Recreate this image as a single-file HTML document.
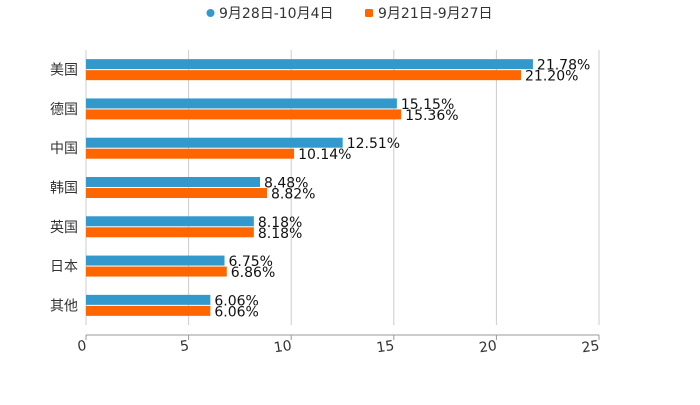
<!DOCTYPE html>
<html><head><meta charset="utf-8"><style>
body{margin:0;background:#fff}
svg text{font-family:"DejaVu Sans","Noto Sans CJK SC",sans-serif}
</style></head><body>
<svg id="c" width="700" height="400"></svg>
<script>
const categories=["美国","德国","中国","韩国","英国","日本","其他"];
const seriesA=[21.78,15.15,12.51,8.48,8.18,6.75,6.06];
const seriesB=[21.20,15.36,10.14,8.82,8.18,6.86,6.06];
const ticks=[0,5,10,15,20,25];
const NS="http://www.w3.org/2000/svg";
const svg=document.getElementById('c');
const X0=86,X1=599,T=50,B=325;
const x=v=>X0+(v-0)/25*(X1-X0);
const band=(B-T)/categories.length;
function el(t,a,p){const e=document.createElementNS(NS,t);for(const k in a)e.setAttribute(k,a[k]);(p||svg).appendChild(e);return e;}
ticks.forEach(t=>{
 const g=el('line',{x1:x(t),x2:x(t),y1:T,y2:B,stroke:'#ccc','stroke-width':1});
 
 
 const tk=el('line',{x1:x(t),x2:x(t),y1:335,y2:340,stroke:'#999'});
 
 
 const lb=el('text',{x:x(t)+1,y:350,'font-size':14,fill:'#333','text-anchor':'end',transform:`rotate(-8 ${x(t)} 350)`});
 lb.textContent=t;
 
 
});
const ax=el('line',{x1:X0,x2:X1,y1:335,y2:335,stroke:'#999'});


categories.forEach((c,i)=>{
 const cy=T+band*(i+0.5);
 const l=el('text',{x:78,y:cy+5,'font-size':14,fill:'#333','text-anchor':'end'});
 l.textContent=c;
 
 
 [[seriesA,'#3399cc',cy-10.5],[seriesB,'#ff6600',cy+0.5]].forEach(([s,col,y])=>{
  const r=el('rect',{x:X0,y:y,width:x(s[i])-X0,height:10,fill:col});
  
  
  const v=el('text',{x:x(s[i])+4,y:y+10.5,'font-size':14,fill:'#111'});
  v.textContent=s[i].toFixed(2)+'%';
  
  
 });
});
const lg=el('g',{});


const d1=el('circle',{cx:210.5,cy:13,r:4,fill:'#3399cc'},lg);
const t1=el('text',{x:219,y:18,'font-size':14,fill:'#333'},lg);t1.textContent='9月28日-10月4日';


const d2=el('rect',{x:365,y:9,width:8,height:8,rx:1.5,fill:'#ff6600'},lg);
const t2=el('text',{x:378,y:18,'font-size':14,fill:'#333'},lg);t2.textContent='9月21日-9月27日';


</script>
</body></html>
